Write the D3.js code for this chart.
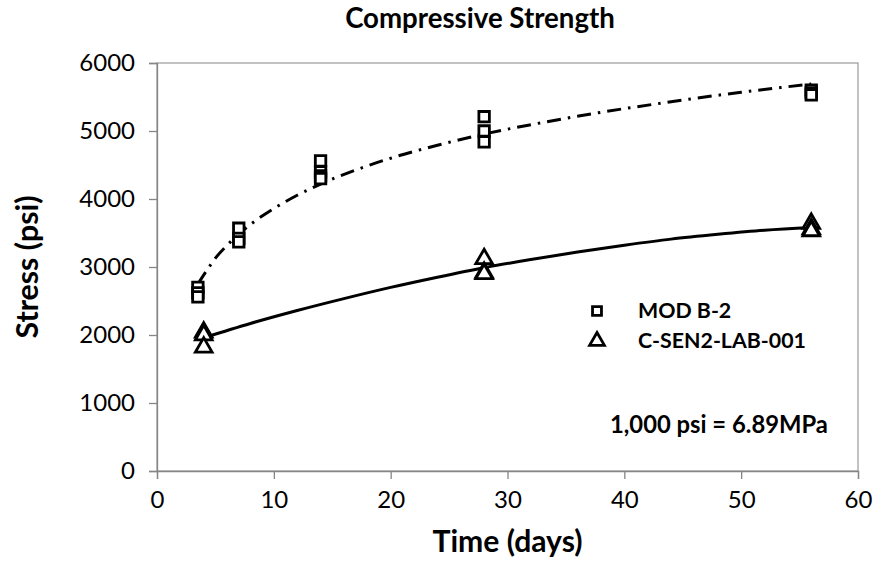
<!DOCTYPE html>
<html>
<head>
<meta charset="utf-8">
<script src="https://cdn.jsdelivr.net/npm/d3@7"></script>
<style>
  html, body { margin: 0; padding: 0; background: #fff; }
  svg { display: block; }
  text { font-family: "Lato", "Open Sans", sans-serif; fill: #000; }
</style>
</head>
<body>
<svg id="chart" width="877" height="563"></svg>
<script>
// ---------- data ----------
const xTicks = [0, 10, 20, 30, 40, 50, 60];
const yTicks = [0, 1000, 2000, 3000, 4000, 5000, 6000];

const modB2Days   = [3.5, 3.5, 3.5, 7, 7, 7, 14, 14, 14, 14, 28, 28, 28, 56, 56, 56];
const modB2Stress = [2700, 2620, 2560, 3570, 3420, 3370, 4560, 4400, 4340, 4300, 5210, 5000, 4840, 5600, 5560, 5530];

const csenDays   = [4, 4, 4, 28, 28, 28, 56, 56, 56];
const csenStress = [2040, 2000, 1820, 3120, 2920, 2900, 3640, 3560, 3530];

// trend curves as drawn in the picture
const modB2TrendDays   = [3.5, 4.5, 5, 6, 7, 8.5, 10, 12, 14, 17, 20, 24, 28, 33, 38, 44, 50, 56];
const modB2TrendStress = [2750, 3010, 3130, 3320, 3485, 3690, 3860, 4055, 4220, 4425, 4600, 4790, 4955, 5125, 5275, 5430, 5570, 5690];

const csenTrendDays   = [4, 8, 12, 16, 20, 24, 28, 32, 36, 40, 44, 48, 52, 56];
const csenTrendStress = [1960, 2170, 2360, 2535, 2700, 2850, 2990, 3110, 3220, 3320, 3410, 3480, 3540, 3580];

const legendLabels = ["MOD B-2", "C-SEN2-LAB-001"];
const titleText = "Compressive Strength";
const xTitle = "Time (days)";
const yTitle = "Stress (psi)";
const noteText = "1,000 psi = 6.89MPa";

// ---------- layout ----------
const svg = d3.select("#chart");
const pLeft = 157, pRight = 858, pTop = 63, pBottom = 471;
const x = d3.scaleLinear().domain([0, 60]).range([pLeft, pRight]);
const y = d3.scaleLinear().domain([0, 6000]).range([pBottom, pTop]);
const axisColor = "#868686";

function fitWidth(sel, target) {
  const w = sel.node().getComputedTextLength();
  const fs = parseFloat(sel.style("font-size"));
  sel.style("font-size", (fs * target / w) + "px");
}

// plot border (top / right)
svg.append("rect")
  .attr("x", pLeft).attr("y", pTop)
  .attr("width", pRight - pLeft).attr("height", pBottom - pTop)
  .attr("fill", "none").attr("stroke", axisColor).attr("stroke-width", 1);

// axes
const xAxis = svg.append("g").attr("transform", `translate(0,${pBottom})`)
  .call(d3.axisBottom(x).tickValues(xTicks).tickSize(8).tickPadding(12).tickFormat(d3.format("d")));
const yAxis = svg.append("g").attr("transform", `translate(${pLeft},0)`)
  .call(d3.axisLeft(y).tickValues(yTicks).tickSize(8).tickPadding(14).tickFormat(d3.format("d")));

[xAxis, yAxis].forEach(g => {
  g.select(".domain").attr("stroke", axisColor).attr("stroke-width", 1.3);
  g.selectAll(".tick line").attr("stroke", axisColor).attr("stroke-width", 1.3);
  g.selectAll(".tick text").attr("fill", "#000")
    .style("font-family", "Lato, 'Open Sans', sans-serif").style("font-size", "24px");
});
xAxis.selectAll(".tick text").attr("dy", "0.71em");

// trend lines
const lineGen = d3.line().x((d) => x(d[0])).y((d) => y(d[1])).curve(d3.curveMonotoneX);
svg.append("path")
  .datum(modB2TrendDays.map((d, i) => [d, modB2TrendStress[i]]))
  .attr("d", lineGen).attr("fill", "none").attr("stroke", "#000")
  .attr("stroke-width", 3).attr("stroke-dasharray", "14,7,2.5,7");
svg.append("path")
  .datum(csenTrendDays.map((d, i) => [d, csenTrendStress[i]]))
  .attr("d", lineGen).attr("fill", "none").attr("stroke", "#000")
  .attr("stroke-width", 3);

// markers
const sqSym = d3.symbol().type(d3.symbolSquare).size(110);
const triSym = d3.symbol().type(d3.symbolTriangle).size(120);

svg.append("g").selectAll("path")
  .data(modB2Days.map((d, i) => [d, modB2Stress[i]]))
  .join("path")
  .attr("d", sqSym)
  .attr("transform", d => `translate(${x(d[0])},${y(d[1])})`)
  .attr("fill", "#fff").attr("stroke", "#000").attr("stroke-width", 2.8);

svg.append("g").selectAll("path")
  .data(csenDays.map((d, i) => [d, csenStress[i]]))
  .join("path")
  .attr("d", triSym)
  .attr("transform", d => `translate(${x(d[0])},${y(d[1])})`)
  .attr("fill", "#fff").attr("stroke", "#000").attr("stroke-width", 2.8);

// legend
const legend = svg.append("g");
const legSyms = [
  d3.symbol().type(d3.symbolSquare).size(80),
  d3.symbol().type(d3.symbolTriangle).size(95)
];
legendLabels.forEach((lab, i) => {
  const cy = 311 + i * 30;
  legend.append("path").attr("d", legSyms[i]())
    .attr("transform", `translate(597,${cy})`)
    .attr("fill", "#fff").attr("stroke", "#000").attr("stroke-width", 2.8);
  legend.append("text").attr("class", "leg").attr("x", 638).attr("y", cy + 7)
    .style("font-weight", "bold").style("font-size", "21px").text(lab);
});
const legTexts = legend.selectAll("text.leg");
const longest = legTexts.filter((d, i) => i === 1);
fitWidth(longest, 168);
legTexts.style("font-size", longest.style("font-size"));

// note
const note = svg.append("text").attr("x", 610).attr("y", 433)
  .style("font-weight", "bold").style("font-size", "21px").text(noteText);
fitWidth(note, 218);

// title
const title = svg.append("text").attr("x", 480).attr("y", 28).attr("text-anchor", "middle")
  .style("font-weight", "bold").style("font-size", "24px").text(titleText);
fitWidth(title, 270);

// axis titles
const xt = svg.append("text").attr("x", (pLeft + pRight) / 2).attr("y", 552).attr("text-anchor", "middle")
  .style("font-weight", "bold").style("font-size", "24px").text(xTitle);
fitWidth(xt, 150);
const yt = svg.append("text").attr("transform", `translate(38,${(pTop + pBottom) / 2}) rotate(-90)`)
  .attr("text-anchor", "middle")
  .style("font-weight", "bold").style("font-size", "24px").text(yTitle);
fitWidth(yt, 143);
</script>
</body>
</html>
